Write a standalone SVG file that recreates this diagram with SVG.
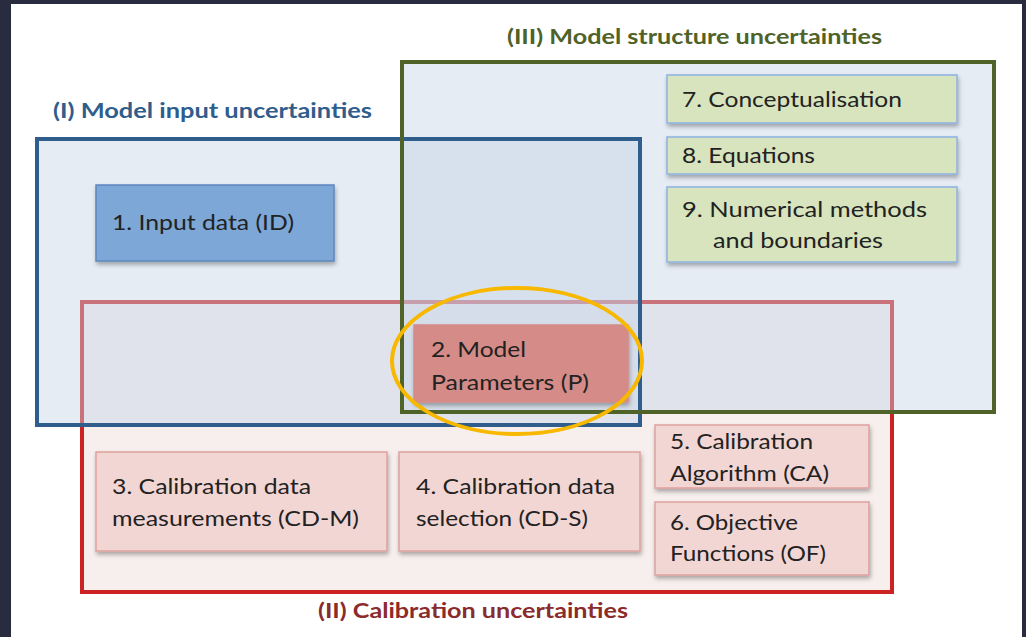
<svg xmlns="http://www.w3.org/2000/svg" width="1026" height="637" viewBox="0 0 1026 637">
<style>
text{font-family:"Lato","Open Sans","Liberation Sans",sans-serif;font-size:21px;fill:#222222}
.title{font-weight:bold;font-size:21px}
.node{stroke-width:1.5}
.blue{fill:#7ba7d6;stroke:#5d87bd}
.green{fill:#d7e4bd;stroke:#8db3e2}
.pink{fill:#f2d6d4;stroke:#dea19d}
.param{fill:#d58b88;stroke:#d58b88}
.frame{fill:none;stroke-width:4}
.veil{fill:#c6d5e7;fill-opacity:0.45}
</style>
<defs>
<filter id="sh" x="-10%" y="-10%" width="130%" height="140%">
<feDropShadow dx="1" dy="3" stdDeviation="2" flood-color="#000" flood-opacity="0.3"/>
</filter>
</defs>
<rect x="0" y="0" width="1026" height="637" fill="#282c3e"/>
<rect x="11" y="4" width="1011" height="633" fill="#ffffff"/>

<g id="groups">
<g id="group-II">
<rect x="82" y="302" width="810" height="290" fill="#f6efee" stroke="#cc2222" stroke-width="4"/>
</g>
<g id="group-I">
<rect class="veil" x="37" y="139" width="603" height="286"/>
</g>
<g id="group-III">
<rect class="veil" x="402" y="62" width="592" height="350"/>
</g>
<rect class="frame" x="37" y="139" width="603" height="286" stroke="#2f5d8c"/>
<rect class="frame" x="402" y="62" width="592" height="350" stroke="#4f6228"/>
<text class="title" x="507" y="44" style="fill:#4f6228" textLength="375" lengthAdjust="spacingAndGlyphs">(III) Model structure uncertainties</text>
<text class="title" x="53" y="118" style="fill:#2f5d8c" textLength="319" lengthAdjust="spacingAndGlyphs">(I) Model input uncertainties</text>
<text class="title" x="318" y="618" style="fill:#8c2b2b" textLength="310" lengthAdjust="spacingAndGlyphs">(II) Calibration uncertainties</text>
</g>

<g id="n1">
<rect class="node blue" x="96" y="185" width="238" height="76" filter="url(#sh)"/>
<text x="112" y="230" textLength="182" lengthAdjust="spacingAndGlyphs">1. Input data (ID)</text>
</g>
<g id="n2">
<rect class="node param" x="414" y="325" width="214" height="77" filter="url(#sh)"/>
<text x="431" y="357" textLength="95" lengthAdjust="spacingAndGlyphs">2. Model</text>
<text x="431" y="390" textLength="158" lengthAdjust="spacingAndGlyphs">Parameters (P)</text>
</g>
<g id="n7">
<rect class="node green" x="667" y="75" width="290" height="48" filter="url(#sh)"/>
<text x="682" y="107" textLength="220" lengthAdjust="spacingAndGlyphs">7. Conceptualisation</text>
</g>
<g id="n8">
<rect class="node green" x="667" y="137" width="290" height="37" filter="url(#sh)"/>
<text x="682" y="163" textLength="133" lengthAdjust="spacingAndGlyphs">8. Equations</text>
</g>
<g id="n9">
<rect class="node green" x="667" y="187" width="290" height="75" filter="url(#sh)"/>
<text x="682" y="217" textLength="245" lengthAdjust="spacingAndGlyphs">9. Numerical  methods</text>
<text x="713" y="248" textLength="170" lengthAdjust="spacingAndGlyphs">and boundaries</text>
</g>
<g id="n3">
<rect class="node pink" x="96" y="452" width="291" height="99" filter="url(#sh)"/>
<text x="112" y="494" textLength="199" lengthAdjust="spacingAndGlyphs">3. Calibration data</text>
<text x="112" y="526" textLength="247" lengthAdjust="spacingAndGlyphs">measurements (CD-M)</text>
</g>
<g id="n4">
<rect class="node pink" x="399" y="452" width="241" height="99" filter="url(#sh)"/>
<text x="416" y="494" textLength="199" lengthAdjust="spacingAndGlyphs">4. Calibration data</text>
<text x="416" y="526" textLength="172" lengthAdjust="spacingAndGlyphs">selection (CD-S)</text>
</g>
<g id="n5">
<rect class="node pink" x="655" y="425" width="214" height="63" filter="url(#sh)"/>
<text x="670" y="449" textLength="143" lengthAdjust="spacingAndGlyphs">5. Calibration</text>
<text x="670" y="481" textLength="159" lengthAdjust="spacingAndGlyphs">Algorithm (CA)</text>
</g>
<g id="n6">
<rect class="node pink" x="655" y="502" width="214" height="73" filter="url(#sh)"/>
<text x="670" y="530" textLength="128" lengthAdjust="spacingAndGlyphs">6. Objective</text>
<text x="670" y="561" textLength="156" lengthAdjust="spacingAndGlyphs">Functions (OF)</text>
</g>

<g id="connectors">
<ellipse cx="517" cy="361" rx="125" ry="73" fill="none" stroke="#f8b800" stroke-width="4"/>
</g>
</svg>
